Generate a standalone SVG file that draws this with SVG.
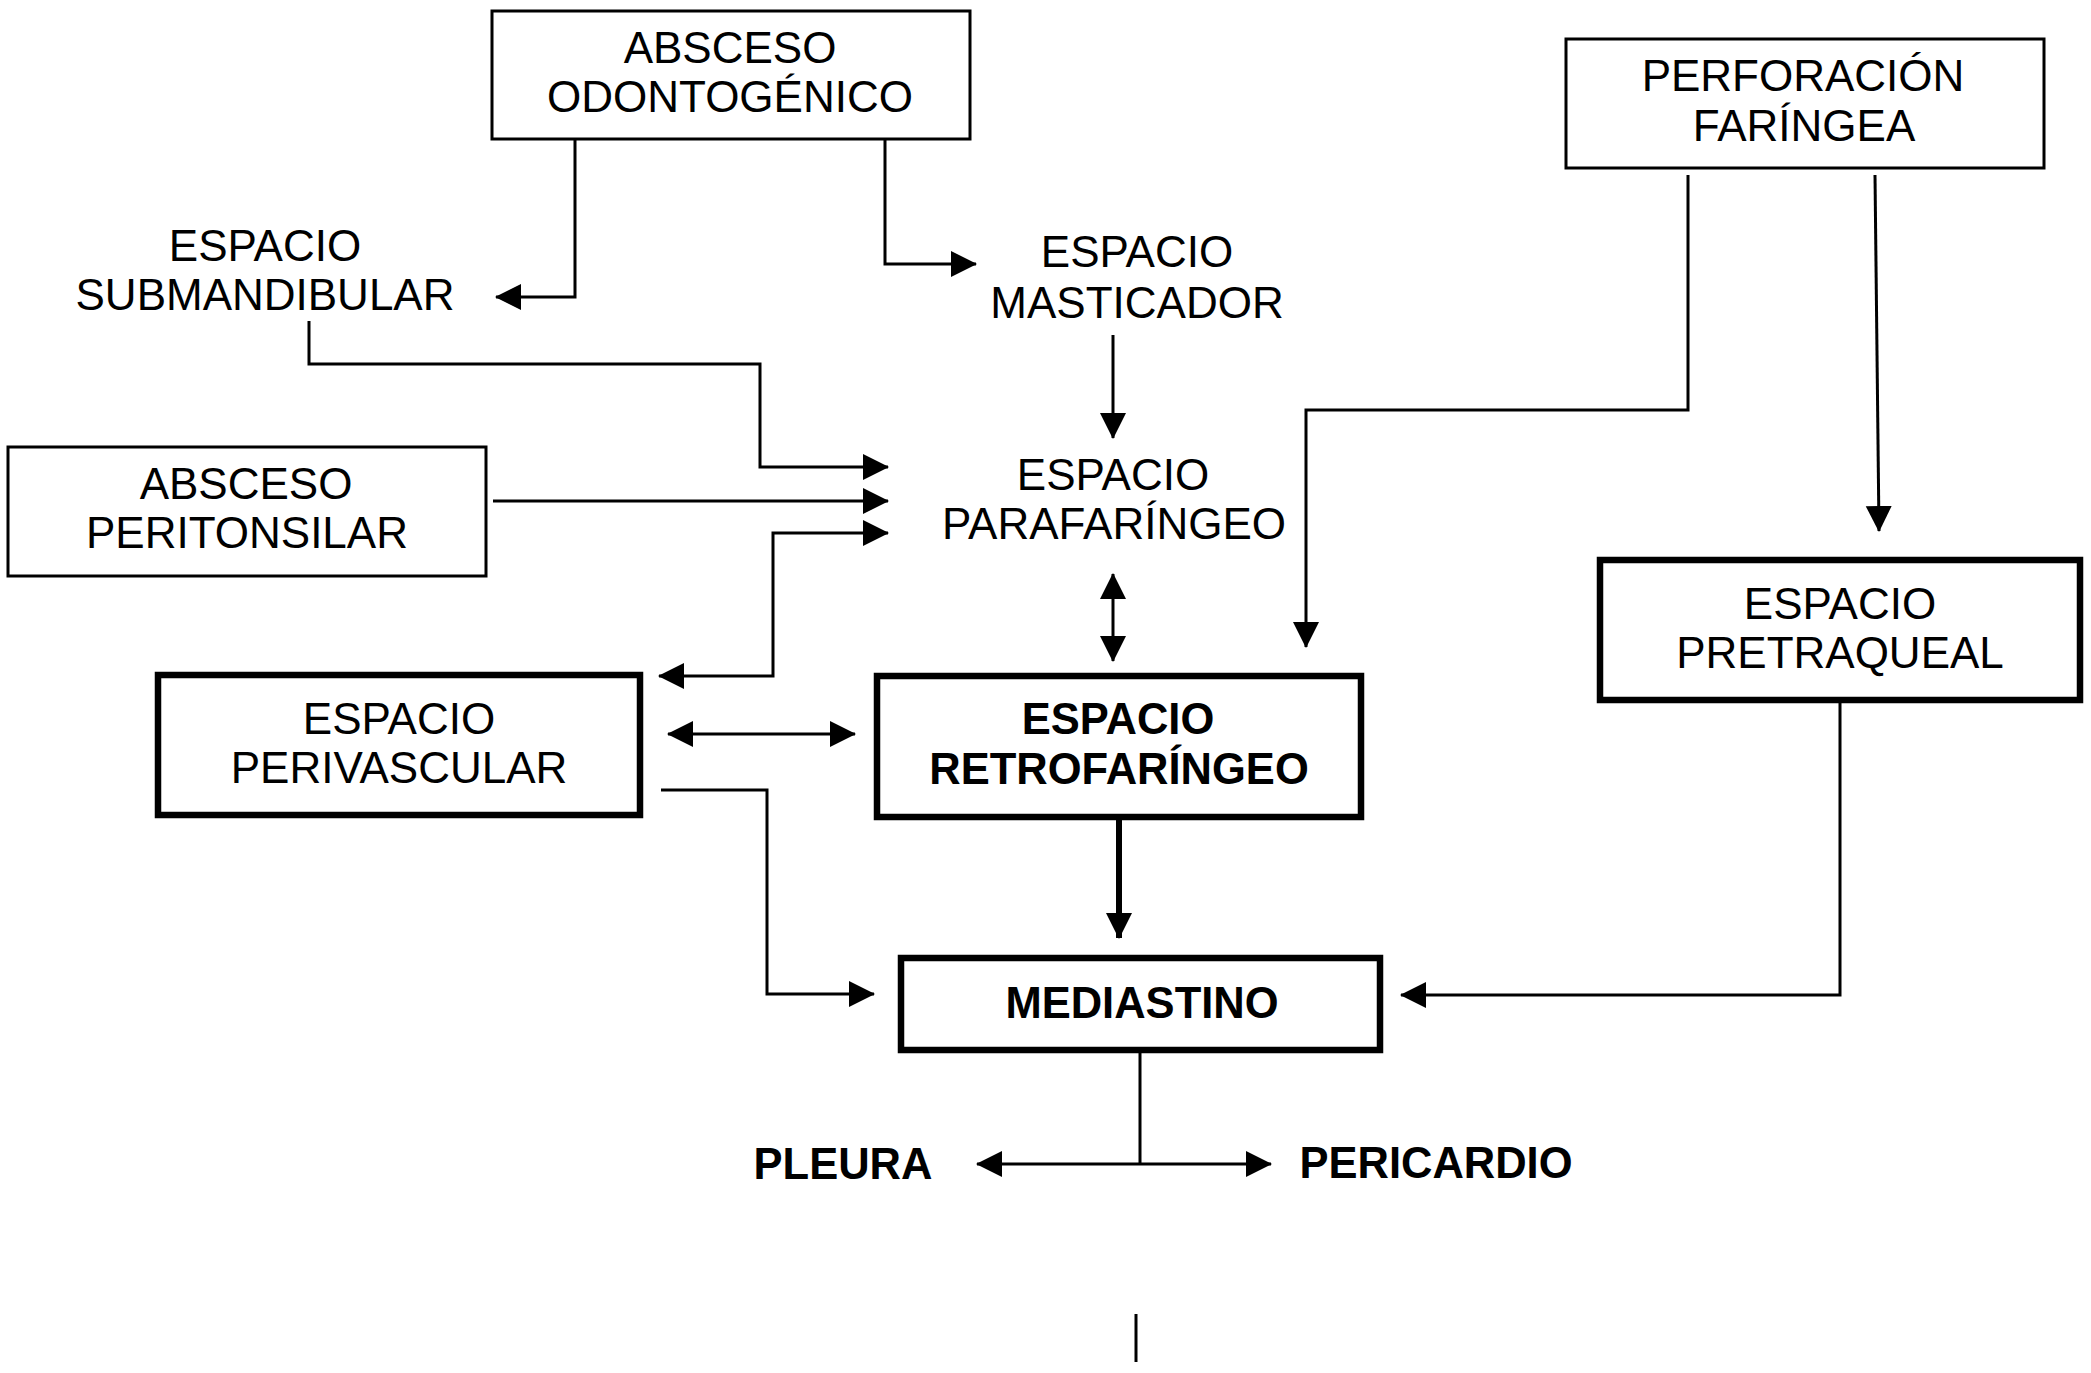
<svg xmlns="http://www.w3.org/2000/svg" width="2091" height="1373" viewBox="0 0 2091 1373">
<style>
.bg{fill:#fff}
.thin{fill:#fff;stroke:#000;stroke-width:3}
.thick{fill:#fff;stroke:#000;stroke-width:6.5}
.t{font-family:"Liberation Sans",Arial,sans-serif;font-size:44px;fill:#000;text-anchor:middle}
.b{font-weight:bold;font-size:43.5px}
.c{fill:none;stroke:#000;stroke-width:3}
.cb{fill:none;stroke:#000;stroke-width:6}
</style>
<defs>
<marker id="arr" markerUnits="userSpaceOnUse" markerWidth="28" markerHeight="28" refX="25" refY="13" orient="auto-start-reverse">
<path d="M0,0 L26,13 L0,26 z" fill="#000"/>
</marker>
</defs>
<rect class="bg" x="0" y="0" width="2091" height="1373"/>

<g id="absceso-odontogenico">
<rect class="thin" x="492" y="11" width="478" height="128"/>
<text class="t" x="730" y="63">ABSCESO</text>
<text class="t" x="730" y="112">ODONTOGÉNICO</text>
</g>
<g id="espacio-submandibular">
<text class="t" x="265" y="261">ESPACIO</text>
<text class="t" x="265" y="310">SUBMANDIBULAR</text>
</g>
<g id="espacio-masticador">
<text class="t" x="1137" y="267">ESPACIO</text>
<text class="t" x="1137" y="318">MASTICADOR</text>
</g>
<g id="espacio-parafaringeo">
<text class="t" x="1113" y="490">ESPACIO</text>
<text class="t" x="1114" y="539">PARAFARÍNGEO</text>
</g>
<g id="absceso-peritonsilar">
<rect class="thin" x="8" y="447" width="478" height="129"/>
<text class="t" x="246" y="499">ABSCESO</text>
<text class="t" x="247" y="548">PERITONSILAR</text>
</g>
<g id="perforacion-faringea">
<rect class="thin" x="1566" y="39" width="478" height="129"/>
<text class="t" x="1803" y="91">PERFORACIÓN</text>
<text class="t" x="1804" y="141">FARÍNGEA</text>
</g>
<g id="espacio-pretraqueal">
<rect class="thick" x="1600" y="560" width="480" height="140"/>
<text class="t" x="1840" y="619">ESPACIO</text>
<text class="t" x="1840" y="668">PRETRAQUEAL</text>
</g>
<g id="espacio-perivascular">
<rect class="thick" x="158" y="675" width="482" height="140"/>
<text class="t" x="399" y="734">ESPACIO</text>
<text class="t" x="399" y="783">PERIVASCULAR</text>
</g>
<g id="espacio-retrofaringeo">
<rect class="thick" x="877" y="676" width="484" height="141"/>
<text class="t b" x="1118" y="734">ESPACIO</text>
<text class="t b" x="1119" y="784">RETROFARÍNGEO</text>
</g>
<g id="mediastino">
<rect class="thick" x="901" y="958" width="479" height="92"/>
<text class="t b" x="1142" y="1018">MEDIASTINO</text>
</g>
<g id="pleura">
<text class="t b" x="843" y="1179">PLEURA</text>
</g>
<g id="pericardio">
<text class="t b" x="1436" y="1178">PERICARDIO</text>
</g>

<g id="connectors">
<path class="c" d="M575,140 V297 H496" marker-end="url(#arr)"/>
<path class="c" d="M885,140 V264 H976" marker-end="url(#arr)"/>
<path class="c" d="M1113,335 V438" marker-end="url(#arr)"/>
<path class="c" d="M309,321 V364 H760 V467 H888" marker-end="url(#arr)"/>
<path class="c" d="M493,501 H888" marker-end="url(#arr)"/>
<path class="c" d="M888,533 H773 V676 H659" marker-start="url(#arr)" marker-end="url(#arr)"/>
<path class="c" d="M1113,574 V661" marker-start="url(#arr)" marker-end="url(#arr)"/>
<path class="c" d="M668,734 H855" marker-start="url(#arr)" marker-end="url(#arr)"/>
<path class="c" d="M661,790 H767 V994 H874" marker-end="url(#arr)"/>
<path class="c" d="M1688,175 V410 H1306 V647" marker-end="url(#arr)"/>
<path class="c" d="M1875,175 L1879,531" marker-end="url(#arr)"/>
<path class="c" d="M1840,701 V995 H1401" marker-end="url(#arr)"/>
<path class="cb" d="M1119,818 V938" marker-end="url(#arr)"/>
<path class="c" d="M1140,1051 V1164"/>
<path class="c" d="M977,1164 H1271" marker-start="url(#arr)" marker-end="url(#arr)"/>
</g>
<line x1="1136" y1="1314" x2="1136" y2="1362" stroke="#000" stroke-width="3"/>
</svg>
